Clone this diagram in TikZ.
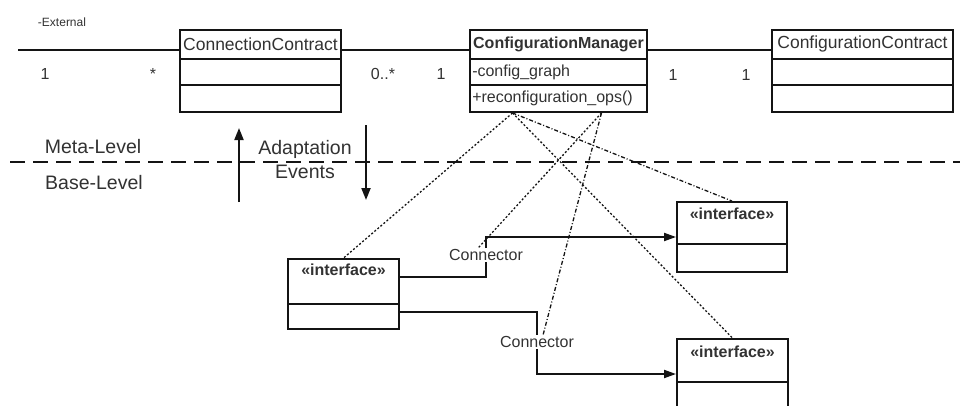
\documentclass[tikz,border=0pt]{standalone}
\usepackage{fontspec}
\setmainfont{Liberation Sans}
\usetikzlibrary{positioning,arrows.meta,calc}
\definecolor{umlInk}{RGB}{20,20,20}
\definecolor{umlText}{RGB}{50,50,50}

\begin{document}
\begin{tikzpicture}[x=1pt, y=-1pt,
  cls/.style={draw=umlInk, line width=1.9pt, minimum height=82pt, inner sep=0pt},
  iface/.style={draw=umlInk, line width=1.9pt, minimum height=70pt, inner sep=0pt},
  ttl/.style={font=\fontsize{16}{18}\selectfont\bfseries, text=umlText, inner sep=0pt},
  ttlr/.style={font=\fontsize{17.5}{20}\selectfont, text=umlText, inner sep=0pt},
  lbl/.style={font=\fontsize{16}{18}\selectfont, text=umlText, inner sep=1pt},
  big/.style={font=\fontsize{19.5}{24}\selectfont, text=umlText, inner sep=0pt, align=center},
  assoc/.style={umlInk, line width=1.9pt},
  wire/.style={umlInk, line width=1.9pt},
  sep/.style={umlInk, line width=2.8pt, dash pattern=on 15pt off 8pt},
  evt/.style={-{Triangle[length=12pt,width=9pt]}, umlInk, line width=2pt},
  arr/.style={-{Triangle[length=12pt,width=8pt]}, umlInk, line width=1.9pt},
  link/.style={umlInk, line width=1.3pt, dash pattern=on 2pt off 2pt},
  linkb/.style={umlInk, line width=1.3pt, dash pattern=on 4pt off 2pt on 1pt off 2pt}
]
\path[use as bounding box, clip] (0,0) rectangle (960,405);

\node[cls, minimum width=161pt] (CC) at (260.5,71) {};
\node[cls, minimum width=177pt] (CM) at (558.5,71) {};
\node[cls, minimum width=181pt] (CT) at (862.5,71) {};
\foreach \b in {CC,CM,CT}
  \foreach \d in {30,56}
    \draw[umlInk, line width=1.7pt] ([yshift=-\d]\b.north west) -- ([yshift=-\d]\b.north east);
\node[ttlr] (CCt) at ([yshift=-15]CC.north) {ConnectionContract};
\node[ttl]  (CMt) at ([yshift=-15]CM.north) {ConfigurationManager};
\node[ttlr] (CTt) at ([yshift=-15]CT.north) {ConfigurationContract};
\node[lbl, anchor=west] (cfg) at ([xshift=2,yshift=-43]CM.north west) {-config\_graph};
\node[lbl, anchor=west] (ops) at ([xshift=2,yshift=-69]CM.north west) {+reconfiguration\_ops()};

\coordinate (ext) at (18,50);
\node[font=\fontsize{12}{14}\selectfont, text=umlText] (extl) at (62,22) {-External};
\draw[assoc] (ext) -- (ext -| CC.west);
\draw[assoc] (ext -| CC.east) -- (ext -| CM.west);
\draw[assoc] (ext -| CM.east) -- (ext -| CT.west);
\node[lbl] (m1) at (45,74) {1};
\node[lbl] (m2) at (153,74) {*};
\node[lbl] (m3) at (383,74) {0..*};
\node[lbl] (m4) at (441,74) {1};
\node[lbl] (m5) at (673,75) {1};
\node[lbl] (m6) at (746,75) {1};

\coordinate (sepL) at (10,162);
\coordinate (sepR) at (960,162);
\draw[sep] (sepL) -- (sepR);
\node[big] (meta) at (93,147) {Meta-Level};
\node[big] (base) at (94,183) {Base-Level};
\node[big] (adapt) at (305,160) {Adaptation\\Events};
\coordinate (upS) at (239,202);
\coordinate (upE) at (239,128);
\coordinate (dnS) at (366,125);
\coordinate (dnE) at (366,200);
\draw[evt] (upS) -- (upE);
\draw[evt] (dnS) -- (dnE);

\node[iface, minimum width=111pt] (IL) at (343.5,294) {};
\node[iface, minimum width=110pt] (IT) at (732,237) {};
\node[iface, minimum width=111pt] (IB) at (732.5,374) {};
\foreach \b/\d in {IL/46,IT/43,IB/44}
  \draw[umlInk, line width=1.7pt] ([yshift=-\d]\b.north west) -- ([yshift=-\d]\b.north east);
\node[ttl] (ILt) at ([yshift=-12]IL.north) {«interface»};
\node[ttl] (ITt) at ([yshift=-13]IT.north) {«interface»};
\node[ttl] (IBt) at ([yshift=-14]IB.north) {«interface»};

\node[lbl] (con1) at (486,255) {Connector};
\node[lbl] (con2) at (537,342) {Connector};
\draw[wire] ([yshift=17]IL.east) -| (con1.south);
\draw[arr] (con1.north) |- (IT.west);
\draw[wire] ([yshift=-18]IL.east) -| (con2.north);
\draw[arr] (con2.south) |- (IB.west);

\coordinate (cmL) at ([xshift=-46]CM.south);
\coordinate (cmR) at ([xshift=43]CM.south);
\draw[link] (cmL) -- (IL.north);
\draw[linkb] (cmL) -- (IT.north);
\draw[link] (cmL) -- (IB.north);
\draw[link] (cmR) -- ([xshift=-8]con1.north);
\draw[linkb] (cmR) -- ([xshift=6]con2.north);
\end{tikzpicture}
\end{document}
